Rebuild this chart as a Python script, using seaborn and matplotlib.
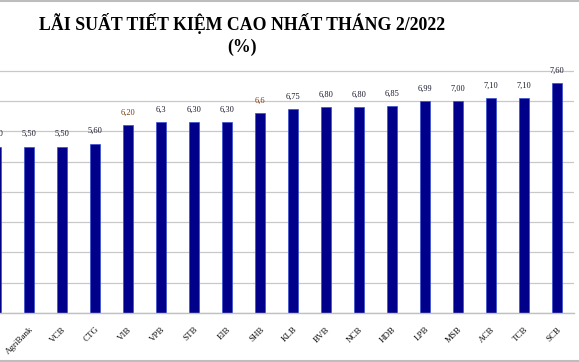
import matplotlib
matplotlib.use("Agg")
import matplotlib.pyplot as plt
import seaborn as sns
import pandas as pd
from matplotlib.lines import Line2D

banks = ["BIDV", "AgriBank", "VCB", "CTG", "VIB", "VPB", "STB", "EIB", "SHB", "KLB",
         "BVB", "NCB", "HDB", "LPB", "MSB", "ACB", "TCB", "SCB"]
rates = [5.50, 5.50, 5.50, 5.60, 6.20, 6.30, 6.30, 6.30, 6.60, 6.75,
         6.80, 6.80, 6.85, 6.99, 7.00, 7.10, 7.10, 7.60]
labels = ["5,50", "5,50", "5,50", "5,60", "6,20", "6,3", "6,30", "6,30", "6,6", "6,75",
          "6,80", "6,80", "6,85", "6,99", "7,00", "7,10", "7,10", "7,60"]
label_colors = ["#1a1a2e"] * len(banks)
label_colors[4] = "#7a3a0a"
label_colors[8] = "#7a3a0a"

df = pd.DataFrame({"bank": banks, "rate": rates})

sns.set_theme(style="white")
plt.rcParams["font.family"] = ["Liberation Serif", "DejaVu Serif"]

W, H = 579, 362
fig = plt.figure(figsize=(W / 100, H / 100), dpi=100)
fig.patch.set_facecolor("white")
step = 33.0
left_px = 557 - 17.5 * step
right_px = 557 + 0.5 * step
bottom_px = 313
top_px = 70
ax = fig.add_axes([left_px / W, (H - bottom_px) / H,
                   (right_px - left_px) / W, (bottom_px - top_px) / H])

sns.barplot(data=df, x="bank", y="rate", ax=ax, color="#00008B", width=0.3,
            edgecolor="#3a4fd0", linewidth=0.5, saturation=1)

ax.set_xlim(-0.5, len(banks) - 0.5)
ax.set_ylim(0, 8.03)
ax.set_yticks(range(0, 9))
ax.yaxis.grid(True, color="#c8c8c8", linewidth=0.9)
ax.set_axisbelow(True)
ax.tick_params(axis="y", left=False, labelleft=False)
ax.tick_params(axis="x", bottom=False, pad=3)
for s in ["left", "right", "top"]:
    ax.spines[s].set_visible(False)
ax.spines["bottom"].set_color("#c0c0c0")
ax.spines["bottom"].set_linewidth(1.0)
ax.set_xlabel("")
ax.set_ylabel("")
ax.set_xticks(range(len(banks)))
ax.set_xticklabels(banks, rotation=45, ha="right", rotation_mode="anchor",
                   fontsize=6.5, color="#111111")

for i, (v, lab, c) in enumerate(zip(rates, labels, label_colors)):
    ax.annotate(lab, (i, v), xytext=(0, 6), textcoords="offset points",
                ha="center", va="bottom", fontsize=6, color=c)

fig.text(242 / W, 1 - 23 / H, "LÃI SUẤT TIẾT KIỆM CAO NHẤT THÁNG 2/2022",
         ha="center", va="center", fontsize=12.8, fontweight="bold", color="black")
fig.text(242 / W, 1 - 47 / H, "(%)", ha="center", va="center",
         fontsize=12.8, fontweight="bold", color="black")

fig.add_artist(Line2D([0, 1], [1 - 1 / H, 1 - 1 / H], transform=fig.transFigure,
                      color="#bdbdbd", linewidth=1.5))
fig.add_artist(Line2D([0, 1], [1.5 / H, 1.5 / H], transform=fig.transFigure,
                      color="#bdbdbd", linewidth=1.5))

fig.savefig("out.png", dpi=100, facecolor="white")
